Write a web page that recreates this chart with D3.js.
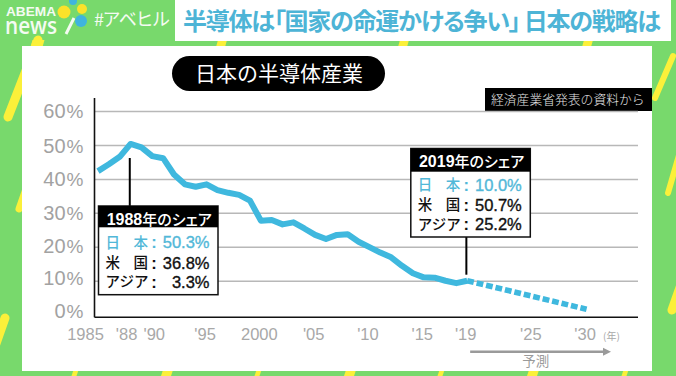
<!DOCTYPE html>
<html>
<head>
<meta charset="utf-8">
<title>日本の半導体産業</title>
<script src="https://d3js.org/d3.v7.min.js"></script>
<style>
    html, body { margin: 0; padding: 0; background: #78d96c; overflow: hidden; }
    svg { display: block; }
    text { font-family: "Noto Sans CJK JP", "Noto Sans", sans-serif; }
    text.num, .tick text { font-family: "Liberation Sans", Arial, sans-serif; }
    text.logo { font-family: "Open Sans", sans-serif; }
</style>
</head>
<body>
<svg id="chart" width="676" height="376"></svg>
<script>
// values
const years = [1985, 1986, 1987, 1988, 1989, 1990, 1991, 1992, 1993, 1994, 1995, 1996,
    1997, 1998, 1999, 2000, 2001, 2002, 2003, 2004, 2005, 2006, 2007, 2008, 2009, 2010,
    2011, 2012, 2013, 2014, 2015, 2016, 2017, 2018, 2019];
const japanShare = [42.3, 44.3, 46.5, 50.3, 49.3, 46.7, 46.1, 41.3, 38.4, 37.7, 38.4, 36.7,
    35.9, 35.3, 33.6, 27.7, 27.9, 26.6, 27.2, 25.4, 23.5, 22.3, 23.5, 23.7, 21.5, 19.9,
    18.3, 16.9, 14.4, 12.2, 11.0, 10.9, 10.0, 9.3, 10.0];
const forecastYears = [2019, 2030];
const forecastShare = [10.0, 1.6];

const yTicks = [0, 10, 20, 30, 40, 50, 60];
const xTicks = [1985, 1988, 1990, 1995, 2000, 2005, 2010, 2015, 2019, 2025, 2030];
const xTickLabels = ["1985", "'88", "'90", "'95", "2000", "'05", "'10", "'15", "'19", "'25", "'30"];

const rowNames = [["日", "本"], ["米", "国"], ["アジア"]];
const share1988 = [50.3, 36.8, 3.3];
const share2019 = [10.0, 50.7, 25.2];

const green = "#78d96c", yellow = "#fbf03a", blue = "#3fb8de", tealText = "#52b8d8";
const svg = d3.select("#chart");

// background stripes
const stripes = [
    [8, 117, 38, 40, 9], [19, 209, 50, 120, 7], [5, 318, -8, 355, 9],
    [673, 56, 655, 98, 6], [682, 145, 668, 193, 6], [688, 265, 672, 310, 9]
];
svg.append("rect").attr("width", 676).attr("height", 376).attr("fill", green);
svg.selectAll(".stripe").data(stripes).enter().append("line")
    .attr("x1", d => d[0]).attr("y1", d => d[1]).attr("x2", d => d[2]).attr("y2", d => d[3])
    .attr("stroke", yellow).attr("stroke-width", d => d[4]).attr("stroke-linecap", "round");

// little stripe ends that show above and below the panel
const topBits = [[36, 13], [220, 10], [402, 10], [586, 10]];
const bottomBits = [[74, 5], [166, 10], [257, 5], [349, 10], [440, 5], [532, 10], [624, 5]];
svg.selectAll(".tb").data(topBits).enter().append("path")
    .attr("d", d => `M${d[0] - d[1] / 2 + 1},47L${d[0] - d[1] / 2 + 3},40H${d[0] + d[1] / 2 + 2}L${d[0] + d[1] / 2},47Z`)
    .attr("fill", yellow);
svg.selectAll(".bb").data(bottomBits).enter().append("path")
    .attr("d", d => `M${d[0] - d[1] / 2},376L${d[0] - d[1] / 2 + 2},370H${d[0] + d[1] / 2 + 2}L${d[0] + d[1] / 2},376Z`)
    .attr("fill", yellow);

// header
svg.append("rect").attr("x", 175).attr("y", 0).attr("width", 496).attr("height", 41).attr("fill", "#fff");
svg.append("text").attr("x", 183).attr("y", 29.5)
    .attr("font-size", 24).attr("font-weight", 700).attr("fill", "#4db4d6")
    .style("font-feature-settings", "'palt'")
    .attr("textLength", 478).attr("lengthAdjust", "spacing")
    .text("半導体は「国家の命運かける争い」 日本の戦略は");

// logo
const logo = svg.append("g").attr("fill", "#f4fbf2");
logo.append("text").attr("class", "num").attr("x", 6).attr("y", 15.5).attr("font-size", 12).attr("font-weight", 700)
    .attr("textLength", 50).attr("lengthAdjust", "spacingAndGlyphs").text("ABEMA");
logo.append("text").attr("class", "logo").attr("x", 5).attr("y", 34).attr("font-size", 24).attr("font-weight", 600)
    .attr("textLength", 52).attr("lengthAdjust", "spacingAndGlyphs").text("news");
logo.append("line").attr("x1", 74).attr("y1", 18).attr("x2", 66).attr("y2", 34)
    .attr("stroke", "#f4fbf2").attr("stroke-width", 3);
const dots = [[64, 12, 6.5, "#fbe22a"], [82, 9, 5, "#fbe22a"], [81, 21, 6, "#3fb4de"], [73, 1, 4, "#3fb4de"]];
svg.selectAll(".dot").data(dots).enter().append("circle")
    .attr("cx", d => d[0]).attr("cy", d => d[1]).attr("r", d => d[2]).attr("fill", d => d[3]);
svg.append("text").attr("x", 94).attr("y", 26).attr("font-size", 18).attr("fill", "#f4fbf2")
    .attr("textLength", 76).text("#アベヒル");

// white panel
svg.append("rect").attr("x", 22).attr("y", 46).attr("width", 630).attr("height", 325).attr("fill", "#fff");

// title pill and source tag
svg.append("rect").attr("x", 172).attr("y", 56).attr("width", 213).attr("height", 35).attr("rx", 17.5).attr("fill", "#000");
svg.append("text").attr("x", 279).attr("y", 81).attr("text-anchor", "middle")
    .attr("font-size", 21).attr("fill", "#fff").text("日本の半導体産業");
svg.append("rect").attr("x", 485).attr("y", 88).attr("width", 167).attr("height", 23).attr("fill", "#000");
svg.append("text").attr("x", 491).attr("y", 104).attr("font-size", 12.8).attr("font-weight", 300).attr("fill", "#e4e4e4")
    .text("経済産業省発表の資料から");

// scales
const x = d3.scaleLinear().domain([1985, 2030]).range([98, 586.6]);
const y = d3.scaleLinear().domain([0, 60]).range([314.7, 111]);
const axisLeft = 94.5, axisRight = 638, baseY = 317.3;

// y axis with gridlines, the 0 label sits higher than the scale and has no gridline
const yLabelNudge = { 0: -4, 10: -3.7, 20: -1.7, 30: -0.7, 40: -1, 50: 0, 60: -1 };
const yAxis = svg.append("g").attr("transform", `translate(${axisLeft},0)`)
    .call(d3.axisLeft(y).tickValues(yTicks).tickSize(-(axisRight - axisLeft)).tickPadding(11));
yAxis.select(".domain").remove();
yAxis.selectAll(".tick line").attr("stroke", "#b8b8b8").attr("stroke-width", 1.5)
    .filter(d => d === 0).remove();
yAxis.selectAll(".tick text").each(function (d) {
    const t = d3.select(this).text(null)
        .attr("fill", "#a2a2a2").attr("font-size", 20).attr("dy", "0.36em")
        .attr("y", yLabelNudge[d]);
    t.append("tspan").text(d);
    t.append("tspan").attr("font-size", 19).attr("dx", 1).text("%");
});

// x axis
const xNudge = { 1985: -13, 1988: -4.5, 1990: 1.5 };
const xAxis = svg.append("g").attr("transform", `translate(0,${baseY})`)
    .call(d3.axisBottom(x).tickValues(xTicks).tickSize(0).tickPadding(11)
        .tickFormat((d, i) => xTickLabels[i]));
xAxis.select(".domain").remove();
xAxis.selectAll(".tick text")
    .attr("fill", "#a8a8a8").attr("font-size", 16.5)
    .attr("dx", d => xNudge[d] !== undefined ? xNudge[d] : -2);

svg.append("line").attr("x1", axisLeft).attr("x2", axisRight).attr("y1", baseY).attr("y2", baseY)
    .attr("stroke", "#111").attr("stroke-width", 1.6);
svg.append("line").attr("x1", axisLeft).attr("x2", axisLeft).attr("y1", 98).attr("y2", baseY)
    .attr("stroke", "#111").attr("stroke-width", 1.6);

svg.append("text").attr("x", 603).attr("y", 339.5).attr("font-size", 10).attr("fill", "#a8a8a8").text("(年)");

// forecast arrow
svg.append("line").attr("x1", x(2019) + 3).attr("x2", 604).attr("y1", 351.7).attr("y2", 351.7)
    .attr("stroke", "#9a9a9a").attr("stroke-width", 2.5);
svg.append("path").attr("d", "M611,351.7L603,347.7V355.7Z").attr("fill", "#9a9a9a");
svg.append("text").attr("x", 535.7).attr("y", 366).attr("text-anchor", "middle")
    .attr("font-size", 13.5).attr("fill", "#9a9a9a").text("予測");

// lines
const line = d3.line().x(d => x(d[0])).y(d => y(d[1]));
svg.append("path").datum(d3.zip(forecastYears, forecastShare)).attr("d", line)
    .attr("fill", "none").attr("stroke", blue).attr("stroke-width", 5.6)
    .attr("stroke-dasharray", "6.8 2.9");
svg.append("path").datum(d3.zip(years, japanShare)).attr("d", line)
    .attr("fill", "none").attr("stroke", blue).attr("stroke-width", 6)
    .attr("stroke-linejoin", "round");

// callouts
function callout(year, values, left, top, headBottom, bottom, stemTop, stemBottom, rowY) {
    const width = 119.5;
    svg.append("line").attr("x1", x(year) - 0.8).attr("x2", x(year) - 0.8)
        .attr("y1", stemTop).attr("y2", stemBottom).attr("stroke", "#000").attr("stroke-width", 2);
    svg.append("rect").attr("x", left).attr("y", top).attr("width", width).attr("height", bottom - top)
        .attr("fill", "#fff").attr("stroke", "#111").attr("stroke-width", 1.5);
    svg.append("rect").attr("x", left).attr("y", top).attr("width", width).attr("height", headBottom - top)
        .attr("fill", "#000");
    const head = svg.append("text").attr("x", left + width / 2 + 1).attr("y", top + 18.5).attr("text-anchor", "middle")
        .attr("font-size", 15).attr("font-weight", 500).attr("fill", "#fff")
        .style("font-feature-settings", "'palt'");
    head.append("tspan").style("font-family", "'Liberation Sans', sans-serif").attr("font-size", 16).attr("font-weight", 700).text(year);
    head.append("tspan").text("年のシェア");

    const rows = svg.append("g").selectAll("g").data(values).enter().append("g")
        .attr("transform", (d, i) => `translate(${left},${rowY[i]})`)
        .attr("fill", (d, i) => i === 0 ? tealText : "#111")
        .attr("font-size", 14.5).attr("font-weight", 500);
    rows.each(function (d, i) {
        const g = d3.select(this);
        const names = rowNames[i];
        if (names.length === 2) {
            g.append("text").attr("x", 7).attr("dy", "0.36em").text(names[0]);
            g.append("text").attr("x", 35).attr("dy", "0.36em").text(names[1]);
        } else {
            g.append("text").attr("x", 7).attr("dy", "0.36em").attr("textLength", 43).text(names[0]);
        }
        g.append("text").attr("class", "num").attr("x", 55.5).attr("dy", "0.36em").attr("text-anchor", "middle")
            .attr("font-size", 16.5).attr("font-weight", 700).text(":");
        g.append("text").attr("class", "num").attr("x", 111).attr("dy", "0.36em").attr("text-anchor", "end")
            .attr("font-size", 16.5).attr("stroke", i === 0 ? tealText : "#111").attr("stroke-width", 0.35)
            .text(d.toFixed(1) + "%");
    });
}
callout(1988, share1988, 98.5, 206, 227.3, 294.7, 158, 206, [242.3, 263, 282]);
callout(2019, share2019, 410.8, 148.5, 171.7, 237, 237, 274.7, [185, 205, 224.3]);
</script>
</body>
</html>
